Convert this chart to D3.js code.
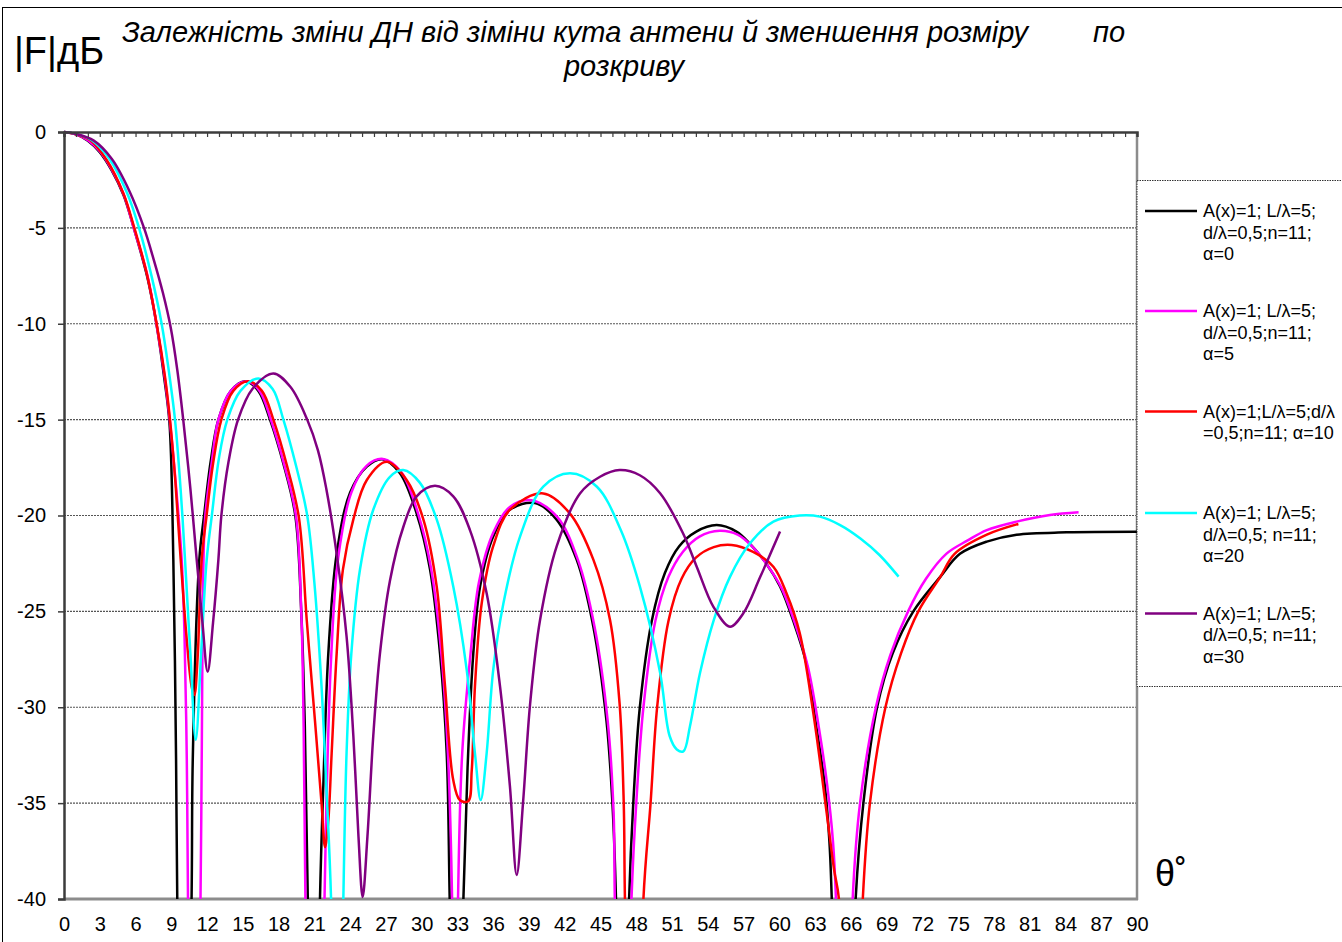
<!DOCTYPE html>
<html>
<head>
<meta charset="utf-8">
<script src="https://cdn.jsdelivr.net/npm/d3@7"></script>
<style>
  html, body { margin: 0; padding: 0; background: #fff; }
  svg { display: block; font-family: "Liberation Sans", Arial, sans-serif; }
</style>
</head>
<body>
<svg id="chart" width="1342" height="942"></svg>
<script>
// ---------- data (theta in degrees, |F| in dB) ----------
const xTickLabels = [0,3,6,9,12,15,18,21,24,27,30,33,36,39,42,45,48,51,54,57,60,63,66,69,72,75,78,81,84,87,90];
const yTickLabels = [0,-5,-10,-15,-20,-25,-30,-35,-40];

const alpha0 = [[0,0],[1,-0.12],[2,-0.45],[3,-1.05],[4,-2.0],[5,-3.3],[5.85,-5.0],[7,-7.6],[7.75,-10.0],[8.4,-12.8],[8.85,-15.2],[9.17,-22.3],[9.4,-32.75],[9.5,-40],[10.1,-60],[10.7,-40],[10.8,-32.75],[11.35,-22.3],[11.75,-20],[12.3,-17.2],[12.95,-15],[14.0,-13.5],[15.2,-13.0],[16.3,-13.5],[17.28,-15],[18.4,-17.3],[19.4,-20],[19.9,-25],[20.2,-31],[20.45,-40],[21.0,-60],[21.47,-40],[21.75,-34.1],[22.17,-27.2],[22.87,-22.0],[24.0,-18.8],[25.4,-17.45],[26.7,-17.07],[28.18,-17.8],[29.58,-19.9],[30.7,-22.8],[31.54,-27.2],[32.1,-32.4],[32.35,-40],[32.9,-60],[33.5,-40],[33.9,-32.4],[34.33,-27.2],[34.9,-23.7],[36.0,-21.1],[37.4,-19.7],[39.5,-19.35],[41.3,-20.2],[43.0,-22.3],[44.4,-25.8],[45.5,-30.7],[46.0,-35.0],[46.3,-40],[46.85,-60],[47.4,-40],[47.75,-35],[48.3,-30],[49.3,-25.5],[50.4,-23.0],[51.6,-21.6],[53.0,-20.85],[54.75,-20.5],[56.4,-20.84],[57.5,-21.45],[58.9,-22.5],[60.06,-23.7],[61.17,-25.5],[62.3,-27.8],[63.1,-31],[63.8,-34],[64.2,-37],[64.4,-40],[65.4,-60],[66.4,-40],[67.05,-35],[68.2,-30],[69.5,-27.2],[71.24,-25],[73.5,-23.2],[75.15,-22],[77.4,-21.36],[79.9,-21.0],[84.1,-20.88],[90,-20.85]];

const alpha5 = [[0,0],[1,-0.12],[2,-0.43],[3,-1.0],[4,-1.95],[5,-3.25],[5.85,-5.0],[7,-7.5],[7.75,-10.0],[8.45,-12.8],[8.9,-15.2],[9.4,-18.5],[9.87,-22.3],[10.1,-26],[10.3,-32.75],[10.4,-40],[10.9,-60],[11.45,-40],[11.55,-32.75],[11.7,-22.3],[11.85,-20],[12.4,-17.2],[12.95,-15],[14.0,-13.5],[15.3,-13.0],[16.4,-13.5],[17.35,-15],[18.45,-17.3],[19.45,-20],[19.9,-25],[20.1,-31],[20.25,-40],[21.05,-60],[21.85,-40],[22.05,-34],[22.4,-27.5],[23.0,-22.2],[24.1,-18.8],[25.4,-17.4],[26.75,-17.05],[28.3,-17.75],[29.7,-19.9],[30.8,-22.8],[31.65,-27.2],[32.2,-32.4],[32.55,-40],[32.8,-60],[33.05,-40],[33.4,-32.4],[34.1,-27.2],[34.8,-23.5],[36.0,-20.9],[37.4,-19.55],[39.2,-19.2],[41.4,-20.1],[43.1,-22.3],[44.5,-25.8],[45.6,-30.7],[46.1,-35.5],[46.2,-40],[46.9,-60],[47.6,-40],[48.0,-35],[48.6,-30],[49.6,-25.5],[50.7,-23.2],[51.9,-21.9],[53.3,-21.1],[55.0,-20.8],[56.5,-21.0],[57.7,-21.6],[59.0,-22.6],[60.2,-23.8],[61.3,-25.6],[62.4,-27.9],[63.3,-31],[64.0,-34],[64.5,-37],[64.75,-40],[65.45,-60],[66.15,-40],[66.77,-35],[68.1,-30],[69.3,-27.3],[70.8,-25],[72.3,-23.3],[74.0,-22.0],[75.8,-21.3],[77.4,-20.76],[79.9,-20.32],[82.7,-19.97],[85.1,-19.83]];

const alpha10 = [[0,0],[1,-0.12],[2.18,-0.42],[3.58,-1.46],[4.98,-3.2],[5.9,-5.0],[6.94,-7.37],[7.77,-10.0],[8.47,-12.76],[8.89,-15.0],[9.35,-18.3],[9.79,-22.3],[10.3,-26.5],[10.7,-28.9],[10.93,-29.36],[11.2,-27.5],[11.55,-22.3],[11.96,-20],[12.5,-17.3],[13.2,-15],[14.2,-13.5],[15.45,-13.0],[16.6,-13.5],[17.56,-15],[18.7,-17.4],[19.7,-20.1],[20.36,-25.45],[21.05,-30.7],[21.6,-35.0],[21.9,-37.3],[22.17,-35.9],[22.45,-32.4],[22.87,-27.2],[23.4,-22.8],[24.27,-20.2],[25.4,-18.15],[27.07,-17.2],[28.74,-18.15],[30.14,-20.2],[31.26,-23.7],[31.96,-28.9],[32.65,-33.8],[33.2,-34.84],[33.9,-34.9],[34.2,-33.3],[34.47,-28.9],[35.03,-24.6],[36.0,-21.6],[37.4,-19.7],[40.2,-18.85],[42.44,-19.9],[44.4,-22.3],[45.8,-25.45],[46.6,-29.8],[46.95,-35],[47.05,-40],[47.85,-60],[48.6,-40],[49.2,-35],[49.75,-30],[50.7,-25.5],[51.8,-23.3],[53.0,-22.2],[54.5,-21.65],[56.0,-21.54],[57.8,-21.9],[59.5,-22.67],[60.6,-24.05],[61.7,-26.1],[62.85,-30.3],[63.97,-35.5],[64.6,-38.5],[65.0,-40],[66.0,-60],[67.0,-40],[67.6,-35],[68.9,-30],[70.2,-27.2],[71.66,-25],[73.5,-23.2],[74.7,-22],[77.4,-21.0],[80.05,-20.44]];

const alpha20 = [[0,0],[1,-0.1],[2.3,-0.42],[3.8,-1.4],[5.3,-3.2],[6.29,-5.0],[7.3,-7.4],[8.19,-10.0],[8.8,-12.5],[9.31,-15.0],[9.8,-18.8],[10.15,-22.3],[10.6,-27.2],[11.05,-31.7],[11.5,-27.2],[11.97,-22.3],[12.4,-20],[13.0,-17.0],[13.7,-15],[14.8,-13.5],[16.3,-12.85],[17.5,-13.4],[18.4,-15],[19.5,-17.5],[20.4,-20],[21.0,-23.5],[21.6,-28.9],[22.0,-34.1],[22.4,-40],[22.9,-60],[23.43,-40],[23.7,-32.4],[24.1,-27.2],[24.83,-22.8],[25.94,-19.7],[27.34,-17.98],[28.46,-17.63],[29.86,-18.3],[31.26,-20.2],[32.65,-23.7],[33.78,-28.06],[34.47,-32.4],[34.95,-34.84],[35.45,-32.4],[36.0,-28.06],[36.85,-24.6],[38.25,-21.1],[40.2,-18.5],[42.44,-17.8],[44.7,-18.5],[46.7,-20.76],[48.3,-23.7],[50.0,-28.2],[50.8,-31.5],[51.4,-32.2],[51.95,-32.3],[52.5,-31.0],[53.35,-28.2],[54.5,-25.45],[55.86,-23.2],[57.54,-21.45],[59.5,-20.32],[61.7,-20.0],[63.4,-20.06],[65.1,-20.5],[66.8,-21.2],[68.4,-22.06],[70.0,-23.19]];

const alpha30 = [[0,0],[1,-0.1],[2.5,-0.45],[4.0,-1.4],[5.5,-3.1],[6.71,-5.0],[7.5,-6.6],[8.3,-8.4],[8.95,-10.2],[9.5,-12.4],[10.0,-15.0],[10.6,-18.6],[11.13,-22.3],[11.6,-25.5],[12.05,-28.15],[12.5,-25.6],[12.95,-22.3],[13.2,-20],[13.8,-17.2],[14.6,-15],[15.8,-13.4],[17.56,-12.59],[19.0,-13.3],[20.4,-15],[21.3,-16.6],[22.0,-18.6],[22.87,-22],[23.7,-26.3],[24.27,-31.5],[24.7,-36.75],[25.05,-39.9],[25.45,-36.75],[25.94,-31.5],[26.5,-27.2],[27.34,-23.4],[28.46,-20.6],[29.58,-19.0],[31.12,-18.45],[32.65,-19.0],[34.05,-20.76],[35.45,-24.06],[36.57,-28.9],[37.4,-34.1],[37.97,-38.75],[38.5,-35],[39.1,-29.8],[39.93,-25.45],[41.33,-21.6],[43.28,-18.85],[44.96,-17.98],[46.6,-17.63],[48.3,-17.9],[50.0,-18.84],[51.9,-20.9],[53.07,-22.67],[54.46,-24.75],[55.86,-25.8],[56.98,-25.1],[58.4,-23.2],[60.06,-20.84]];

const seriesData = [alpha0, alpha5, alpha10, alpha20, alpha30];
const legendLabels = [
  ["A(x)=1; L/λ=5;", "d/λ=0,5;n=11;", "α=0"],
  ["A(x)=1; L/λ=5;", "d/λ=0,5;n=11;", "α=5"],
  ["A(x)=1;L/λ=5;d/λ", "=0,5;n=11; α=10"],
  ["A(x)=1; L/λ=5;", "d/λ=0,5; n=11;", "α=20"],
  ["A(x)=1; L/λ=5;", "d/λ=0,5; n=11;", "α=30"]
];
const titleLine1 = "Залежність зміни ДН від зіміни кута антени й зменшення розміру";
const titleLine1b = "по";
const titleLine2 = "розкриву";
const yAxisTitle = "|F|дБ";
const xAxisTitle = "θ˚";

// ---------- styles ----------
const colors = ["#000000", "#FF00FF", "#FF0000", "#00FFFF", "#800080"];

(function () {
  const svg = d3.select("#chart");
  const pL = 64, pR = 1137, pT = 132, pB = 899;
  const x = d3.scaleLinear().domain([0, 90]).range([pL, pR]);
  const y = d3.scaleLinear().domain([-40, 0]).range([pB, pT]);

  // outer chart frame (extends beyond the visible area on the right/bottom)
  svg.append("rect").attr("x", 2.5).attr("y", 7.5).attr("width", 1360).attr("height", 960)
    .attr("fill", "none").attr("stroke", "#000").attr("stroke-width", 1);

  // gridlines
  svg.append("g").selectAll("line").data(yTickLabels.filter(v => v !== 0 && v !== -40)).join("line")
    .attr("x1", pL).attr("x2", pR)
    .attr("y1", d => y(d)).attr("y2", d => y(d))
    .attr("stroke", "#555").attr("stroke-width", 1.2).attr("stroke-dasharray", "2,1");

  // plot area right and bottom borders
  svg.append("line").attr("x1", pR).attr("x2", pR).attr("y1", pT).attr("y2", pB + 1)
    .attr("stroke", "#8c8c8c").attr("stroke-width", 2.5);
  svg.append("line").attr("x1", pL).attr("x2", pR + 1).attr("y1", pB).attr("y2", pB)
    .attr("stroke", "#8c8c8c").attr("stroke-width", 3);

  // clip
  svg.append("clipPath").attr("id", "plotclip").append("rect")
    .attr("x", pL).attr("y", pT - 3).attr("width", pR - pL).attr("height", pB - pT + 3);

  const line = d3.line().x(d => x(d[0])).y(d => y(d[1])).curve(d3.curveCatmullRom.alpha(0.5));
  const lines = svg.append("g").attr("clip-path", "url(#plotclip)");
  seriesData.forEach((s, i) => {
    lines.append("path").datum(s).attr("d", line)
      .attr("fill", "none").attr("stroke", colors[i]).attr("stroke-width", 2.5)
      .attr("stroke-linejoin", "round");
  });

  // top axis line at 0 dB with minor ticks
  const topAxis = svg.append("g").attr("transform", `translate(0,${pT})`)
    .call(d3.axisBottom(x).ticks(90).tickSize(5).tickFormat(""));
  topAxis.select(".domain").attr("stroke", "#3c3c3c").attr("stroke-width", 2.5);
  topAxis.selectAll(".tick line").attr("stroke", "#3c3c3c").attr("stroke-width", 1.2);

  // x labels along the bottom
  const xAxis = svg.append("g").attr("transform", `translate(0,${pB})`)
    .call(d3.axisBottom(x).tickValues(xTickLabels).tickSize(0).tickPadding(18).tickFormat(d => String(d)));
  xAxis.select(".domain").remove();
  xAxis.selectAll("text").attr("font-size", 20).attr("fill", "#000")
    .attr("font-family", "'Liberation Sans', Arial, sans-serif");

  // y axis
  const yAxis = svg.append("g").attr("transform", `translate(${pL},0)`)
    .call(d3.axisLeft(y).tickValues(yTickLabels).tickSize(6).tickPadding(12).tickFormat(d => String(d)));
  yAxis.select(".domain").attr("stroke", "#3c3c3c").attr("stroke-width", 2.5);
  yAxis.selectAll(".tick line").attr("stroke", "#3c3c3c").attr("stroke-width", 1.5);
  yAxis.selectAll("text").attr("font-size", 20).attr("fill", "#000")
    .attr("font-family", "'Liberation Sans', Arial, sans-serif");

  // titles
  svg.append("text").attr("x", 122).attr("y", 42).attr("font-size", 29).attr("font-style", "italic")
    .text(titleLine1);
  svg.append("text").attr("x", 1093).attr("y", 42).attr("font-size", 29).attr("font-style", "italic")
    .text(titleLine1b);
  svg.append("text").attr("x", 624).attr("y", 76).attr("font-size", 29).attr("font-style", "italic")
    .attr("text-anchor", "middle").text(titleLine2);
  svg.append("text").attr("x", 14).attr("y", 64).attr("font-size", 38).text(yAxisTitle);
  svg.append("text").attr("x", 1155).attr("y", 886).attr("font-size", 36).text(xAxisTitle);

  // legend
  const lg = svg.append("g");
  lg.append("rect").attr("x", 1137).attr("y", 180.5).attr("width", 230).attr("height", 506)
    .attr("fill", "#fff").attr("stroke", "#333").attr("stroke-width", 1).attr("stroke-dasharray", "1.5,1");
  const legendY = [211, 311, 411.5, 513, 613.5];
  legendLabels.forEach((lbl, i) => {
    const g = lg.append("g").attr("transform", `translate(0,${legendY[i]})`);
    g.append("line").attr("x1", 1145).attr("x2", 1197).attr("y1", 0).attr("y2", 0)
      .attr("stroke", colors[i]).attr("stroke-width", 2.6);
    lbl.forEach((t, j) => {
      g.append("text").attr("x", 1203).attr("y", 6 + j * 21.7).attr("font-size", 18).text(t);
    });
  });
})();
</script>
</body>
</html>
